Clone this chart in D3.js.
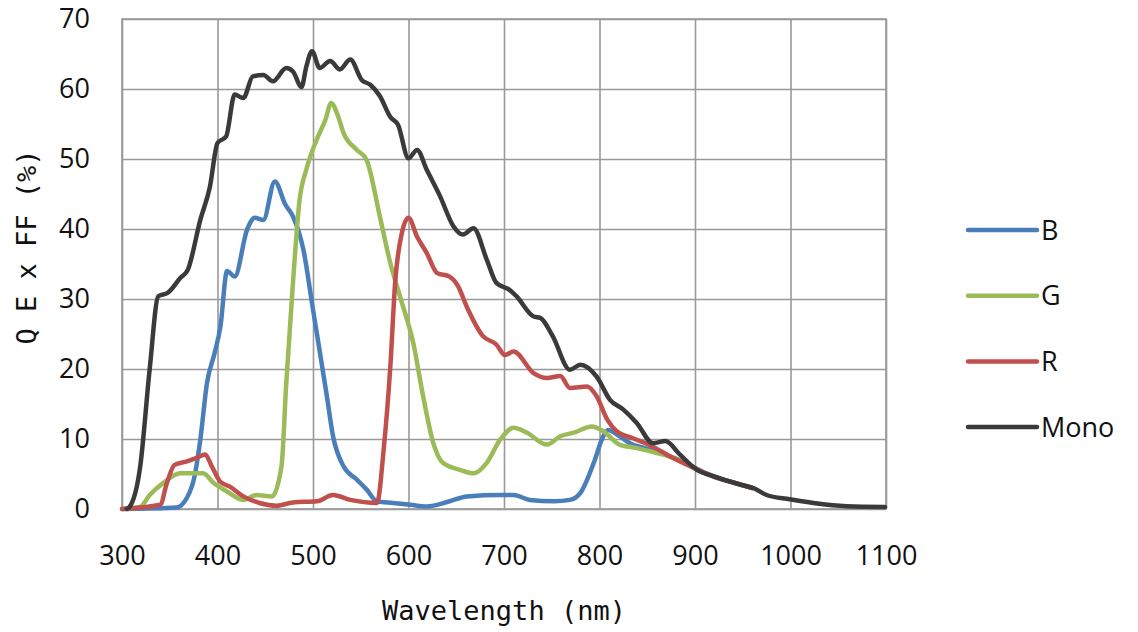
<!DOCTYPE html>
<html>
<head>
<meta charset="utf-8">
<script src="https://cdn.jsdelivr.net/npm/d3@7"></script>
<style>
  body { margin: 0; background: #fff; }
  svg { display: block; }
</style>
</head>
<body>
<div id="chart"></div>
<script>
// wavelength (nm), QE x FF (%) pairs
var blue = [[300,0],[357,0.2],[368,1.6],[376,4.7],[382,9.9],[389,18],[397,22.3],[403,26],[410,34],[418,33.2],[431,39.9],[439,41.6],[448,41.3],[460,46.8],[471,43.5],[479,41.8],[490,37],[500,28.5],[514,16.6],[521,10.4],[532,6.1],[546,4.2],[556,2.8],[567,1.1],[584,0.86],[602,0.6],[619,0.37],[643,1.1],[661,1.8],[696,2.0],[710,2.0],[727,1.3],[752,1.1],[769,1.3],[780,2.3],[794,6.6],[804,10.4],[809,11.3],[821,10.4],[832,9.4],[850,8.6],[870,7.7],[890,6.6],[910,5.2],[930,4.2],[960,3.0]];

var green = [[300,0],[319,0.3],[329,2],[343,3.7],[361,5.1],[385,5.1],[396,3.7],[410,2.5],[427,1.3],[441,2.0],[457,1.8],[467,6.1],[472,18],[479,32.3],[486,44.2],[493,48.5],[504,52.8],[513,55.6],[519,58],[525,56.6],[532,53.7],[546,51.3],[556,49.9],[570,41.8],[581,35.1],[591,30.4],[605,23.7],[616,15.6],[626,9.4],[636,6.6],[654,5.6],[668,5.1],[682,6.6],[696,9.9],[710,11.6],[724,10.9],[745,9.2],[759,10.4],[773,10.9],[792,11.8],[804,11.1],[821,9.2],[839,8.7],[860,8.0],[880,7.2],[900,5.8],[920,4.6],[940,3.8],[960,3.0]];

var red = [[300,0],[340,0.6],[347,3.7],[355,6.3],[368,6.8],[378,7.3],[387,7.8],[394,6.1],[403,3.9],[413,3.2],[427,1.8],[444,0.86],[462,0.47],[479,0.94],[504,1.1],[521,2.0],[539,1.3],[567,0.86],[574,8.5],[581,20.4],[586,32.3],[593,39.4],[600,41.6],[609,38.9],[619,36.6],[630,33.7],[643,33.2],[652,31.8],[661,28.9],[678,24.7],[692,23.5],[701,22],[710,22.5],[731,19.4],[745,18.7],[759,19.0],[769,17.3],[787,17.5],[797,16.1],[808,12.8],[818,11.1],[835,10.1],[856,8.9],[874,7.5],[900,5.8],[920,4.6],[940,3.8],[960,3.0]];

var mono = [[305,0],[308,0.3],[319,6],[329,20],[338,30.4],[348,30.9],[361,33],[369,34.2],[382,41.3],[392,46],[400,52.3],[409,53.2],[418,59.2],[427,58.7],[437,61.8],[448,62],[458,61.1],[472,63],[479,62.5],[488,60.3],[493,63.2],[499,65.4],[507,63],[518,64],[528,62.8],[539,64.2],[551,61.3],[560,60.6],[570,59],[581,56],[589,54.9],[600,50.1],[609,51.3],[619,48.5],[633,44.7],[647,40.4],[657,39.2],[668,40.1],[682,35.6],[692,32.3],[706,31.3],[713,30.4],[731,27.5],[738,27.3],[751,24.7],[769,19.9],[780,20.6],[797,18.9],[811,15.6],[825,14.2],[839,12.3],[856,9.4],[869,9.7],[884,7.8],[902,5.6],[919,4.7],[947,3.5],[961,3.0],[975,2.0],[999,1.4],[1024,0.86],[1059,0.4],[1099,0.3]];

var seriesNames = ['B', 'G', 'R', 'Mono'];
var seriesColors = ['#4a7ebb', '#9bbb59', '#c0504d', '#3a3a3a'];
var xTicks = [300, 400, 500, 600, 700, 800, 900, 1000, 1100];
var yTicks = [0, 10, 20, 30, 40, 50, 60, 70];

function draw() {
    var width = 1138, height = 632;
    var margin = {top: 19, right: 252, bottom: 123, left: 122};
    var plot_w = width - margin.left - margin.right;
    var plot_h = height - margin.top - margin.bottom;

    var svg = d3.select('#chart').append('svg')
        .attr('width', width)
        .attr('height', height);

    var g = svg.append('g')
        .attr('transform', `translate(${margin.left}, ${margin.top})`);

    var x = d3.scaleLinear().domain([300, 1100]).range([0, plot_w]);
    var y = d3.scaleLinear().domain([0, 70]).range([plot_h, 0]);

    // grid
    g.append('g')
        .attr('transform', `translate(0, ${plot_h})`)
        .call(d3.axisBottom(x).tickValues(xTicks).tickSize(-plot_h).tickFormat(''))
        .call(a => a.select('.domain').remove())
        .selectAll('line').attr('stroke', '#999').attr('stroke-width', 1.6);
    g.append('g')
        .call(d3.axisLeft(y).tickValues(yTicks).tickSize(-plot_w).tickFormat(''))
        .call(a => a.select('.domain').remove())
        .selectAll('line').attr('stroke', '#999').attr('stroke-width', 1.6);
    g.append('rect')
        .attr('width', plot_w).attr('height', plot_h)
        .attr('fill', 'none').attr('stroke', '#999').attr('stroke-width', 1.6);

    // tick labels
    var xa = g.append('g')
        .attr('transform', `translate(0, ${plot_h})`)
        .call(d3.axisBottom(x).tickValues(xTicks).tickSize(0).tickPadding(37).tickFormat(d3.format('d')));
    xa.select('.domain').remove();
    xa.selectAll('text')
        .style('font-family', '"Open Sans", sans-serif')
        .style('font-size', '27px')
        .attr('fill', '#111')
        .attr('dy', '0.71em');

    var ya = g.append('g')
        .call(d3.axisLeft(y).tickValues(yTicks).tickSize(0).tickPadding(32));
    ya.select('.domain').remove();
    ya.selectAll('text')
        .style('font-family', '"Open Sans", sans-serif')
        .style('font-size', '27px')
        .attr('fill', '#111');

    // axis titles
    svg.append('text')
        .attr('x', margin.left + plot_w / 2)
        .attr('y', 620)
        .attr('text-anchor', 'middle')
        .style('font-family', '"DejaVu Sans Mono", monospace')
        .style('font-size', '27px')
        .attr('fill', '#111')
        .text('Wavelength (nm)');

    svg.append('text')
        .attr('transform', 'translate(36, 247) rotate(-90)')
        .attr('text-anchor', 'middle')
        .style('font-family', '"DejaVu Sans Mono", monospace')
        .style('font-size', '27px')
        .attr('fill', '#111')
        .text('Q E x FF (%)');

    // curves
    var line = d3.line()
        .x(d => x(d[0]))
        .y(d => y(d[1]))
        .curve(d3.curveMonotoneX);

    var allSeries = [blue, green, red, mono];
    g.selectAll('path.series')
        .data(allSeries)
        .enter()
        .append('path')
        .attr('class', 'series')
        .attr('d', line)
        .attr('fill', 'none')
        .attr('stroke', (d, i) => seriesColors[i])
        .attr('stroke-width', 4.5)
        .attr('stroke-linejoin', 'round')
        .attr('stroke-linecap', 'round');

    // legend
    var legend = svg.append('g')
        .selectAll('g')
        .data(seriesNames)
        .enter()
        .append('g')
        .attr('transform', (d, i) => `translate(968, ${230 + i * 65.7})`);
    legend.append('line')
        .attr('x1', 0).attr('x2', 69)
        .attr('stroke', (d, i) => seriesColors[i])
        .attr('stroke-width', 4.5)
        .attr('stroke-linecap', 'round');
    legend.append('text')
        .attr('x', 73)
        .attr('dy', '0.36em')
        .style('font-family', '"Open Sans", sans-serif')
        .style('font-size', '27px')
        .attr('fill', '#111')
        .text(d => d);
}

draw();
</script>
</body>
</html>
